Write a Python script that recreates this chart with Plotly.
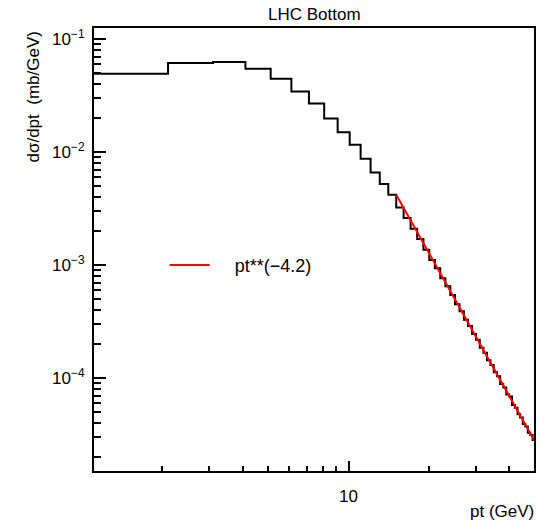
import numpy as np
import plotly.graph_objects as go

# ---- data ----
bin_edges = [1.1, 2.1, 3.1, 4.1, 5.1, 6.1, 7.1, 8.1, 9.1, 10.1, 11.1, 12.1, 13.1, 14.1,
             15.1, 16.1, 17.1, 18.1, 19.1, 20.1, 21.1, 22.1, 23.1, 24.1, 25.1, 26.1,
             27.1, 28.1, 29.1, 30.1, 31.1, 32.1, 33.1, 34.1, 35.1, 36.1, 37.1, 38.1,
             39.1, 40.1, 41.1, 42.1, 43.1, 44.1, 45.1, 46.1, 47.1, 48.1, 49.1, 50.1]
dsigma = [0.0493, 0.0613, 0.0625, 0.0546, 0.0446, 0.0343, 0.0269, 0.0198, 0.0150,
          0.0116, 0.00873, 0.0066, 0.00521, 0.00419, 0.00324, 0.00261, 0.00210,
          0.00170, 0.00137, 0.00111, 0.00094, 0.000767, 0.000650, 0.000545,
          0.000452, 0.000392, 0.000330, 0.000290, 0.000246, 0.000219, 0.000186,
          0.000168, 0.000144, 0.000131, 0.000113, 0.000104, 8.9e-5, 8.3e-5,
          7.2e-5, 6.9e-5, 5.8e-5, 5.5e-5, 4.8e-5, 4.5e-5, 3.95e-5, 3.75e-5,
          3.3e-5, 3.15e-5, 2.85e-5]
fit_pt = [15.1, 49.7]
fit_y = [0.0042, 2.84e-5]
fit_label = "pt**(−4.2)"

x_major = [10]
x_major_text = ["10"]
x_minor = [2, 3, 4, 5, 6, 7, 8, 9, 20, 30, 40]
y_major = [1e-4, 1e-3, 1e-2, 1e-1]
y_major_text = ["10<sup>−4</sup>", "10<sup>−3</sup>", "10<sup>−2</sup>", "10<sup>−1</sup>"]
y_minor = [m * 10.0 ** e for e in (-5, -4, -3, -2, -1) for m in range(2, 10)]

FONT = "Liberation Sans, Arial, Helvetica, sans-serif"

step_x = bin_edges
step_y = dsigma + [dsigma[-1]]

fig = go.Figure()
fig.add_trace(go.Scatter(
    x=step_x, y=step_y, mode="lines", line=dict(shape="hv", color="black", width=2),
    showlegend=False, hoverinfo="skip"))
fig.add_trace(go.Scatter(
    x=fit_pt, y=fit_y, mode="lines", line=dict(color="#ff0000", width=2),
    name="\u00a0\u00a0\u00a0\u00a0" + fit_label, showlegend=True))

axis_common = dict(
    type="log", showgrid=False, zeroline=False, showline=True, linecolor="black",
    linewidth=2, mirror=True, ticks="inside", tickcolor="black", tickwidth=1.5,
    tickfont=dict(family=FONT, size=17, color="black"),
)

fig.update_xaxes(
    **axis_common,
    range=[np.log10(1.107), np.log10(49.7)],
    tickmode="array", tickvals=x_major, ticktext=x_major_text, ticklen=10,
    ticklabelstandoff=9,
    minor=dict(tickmode="array", tickvals=x_minor, ticks="inside", ticklen=5,
               tickcolor="black", tickwidth=1.5, showgrid=False),
)
fig.update_yaxes(
    **axis_common,
    range=[-4.820, -0.9027],
    tickmode="array", tickvals=y_major, ticktext=y_major_text, ticklen=12,
    ticklabelstandoff=4,
    minor=dict(tickmode="array", tickvals=y_minor, ticks="inside", ticklen=7,
               tickcolor="black", tickwidth=1.5, showgrid=False),
)

fig.update_layout(
    width=539, height=521,
    margin=dict(l=94, r=3, t=28, b=50),
    paper_bgcolor="white", plot_bgcolor="white",
    font=dict(family=FONT, size=17, color="black"),
    showlegend=True,
    legend=dict(x=(165 - 94) / 442, y=(471 - 265.3) / 443, xanchor="left",
                yanchor="middle", bgcolor="rgba(0,0,0,0)", borderwidth=0,
                itemwidth=40,
                font=dict(family=FONT, size=18, color="black")),
    annotations=[
        dict(text="LHC Bottom", xref="paper", yref="paper", x=0.5, y=1,
             yshift=14, xanchor="center", yanchor="middle", showarrow=False,
             font=dict(family=FONT, size=17, color="black")),
        dict(text="pt (GeV)", xref="paper", yref="paper", x=1, y=0,
             xanchor="right", yanchor="middle", yshift=-40, xshift=2,
             showarrow=False, font=dict(family=FONT, size=17, color="black")),
        dict(text="dσ/dpt  (mb/GeV)", xref="paper", yref="paper", x=0, y=1,
             xanchor="center", yanchor="top", xshift=-61, yshift=-2, textangle=-90,
             showarrow=False, font=dict(family=FONT, size=17, color="black")),
    ],
)

fig.write_html("out.html")
